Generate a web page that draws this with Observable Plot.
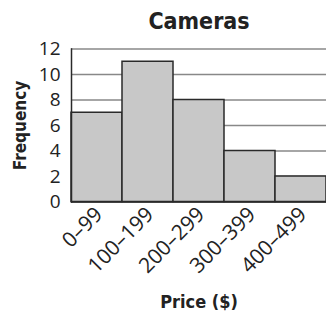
<!DOCTYPE html>
<html>
<head>
<meta charset="utf-8">
<script src="https://cdn.jsdelivr.net/npm/d3@7"></script>
<script src="https://cdn.jsdelivr.net/npm/@observablehq/plot@0.6"></script>
<style>
  html, body { margin: 0; padding: 0; background: #fff; }
</style>
</head>
<body>
<div id="chart"></div>
<script>
const categories = ["0–99", "100–199", "200–299", "300–399", "400–499"];
const frequencies = [7, 11, 8, 4, 2];
const yTicks = [0, 2, 4, 6, 8, 10, 12];
const title = "Cameras";
const xLabel = "Price ($)";
const yLabel = "Frequency";

const data = categories.map((c, i) => ({ price: c, freq: frequencies[i] }));
const boldFont = "'DejaVu Sans Condensed', 'DejaVu Sans', sans-serif";

const chart = Plot.plot({
  width: 326,
  height: 313,
  marginLeft: 71,
  marginRight: 0,
  marginTop: 48.5,
  marginBottom: 111.5,
  style: { fontFamily: "'Open Sans', sans-serif", background: "#fff" },
  x: { domain: categories, padding: 0, label: null },
  y: { domain: [0, 12], ticks: yTicks, label: null },
  marks: [
    Plot.gridY(yTicks, { stroke: "#888", strokeOpacity: 1, strokeWidth: 1.5 }),
    Plot.barY(data, { x: "price", y: "freq", fill: "#c8c8c8", stroke: "#2a2a2a", strokeWidth: 1.5, inset: 0 }),
    Plot.frame({ anchor: "left", stroke: "#2a2a2a", strokeWidth: 1.5 }),
    Plot.ruleY([0], { stroke: "#2a2a2a", strokeWidth: 1.5 }),
    Plot.axisY(yTicks, { tickSize: 0, tickPadding: 11, fontSize: 19, fill: "#222", label: null }),
    Plot.axisX({ tickSize: 0, tickRotate: -45, fontSize: 21, tickPadding: 9, fill: "#222", label: null, dx: 2 }),
    Plot.text([title], { frameAnchor: "top", dy: -36, text: d => d, fontSize: 23, fontWeight: "bold", fontFamily: boldFont, fill: "#222" }),
    Plot.text([xLabel], { frameAnchor: "bottom", dy: 106, text: d => d, fontSize: 18, fontWeight: "bold", fontFamily: boldFont, fill: "#222" }),
    Plot.text([yLabel], { frameAnchor: "left", dx: -51, rotate: -90, textAnchor: "middle", text: d => d, fontSize: 17, fontWeight: "bold", fontFamily: boldFont, fill: "#222" })
  ]
});
document.getElementById("chart").appendChild(chart);
</script>
</body>
</html>
